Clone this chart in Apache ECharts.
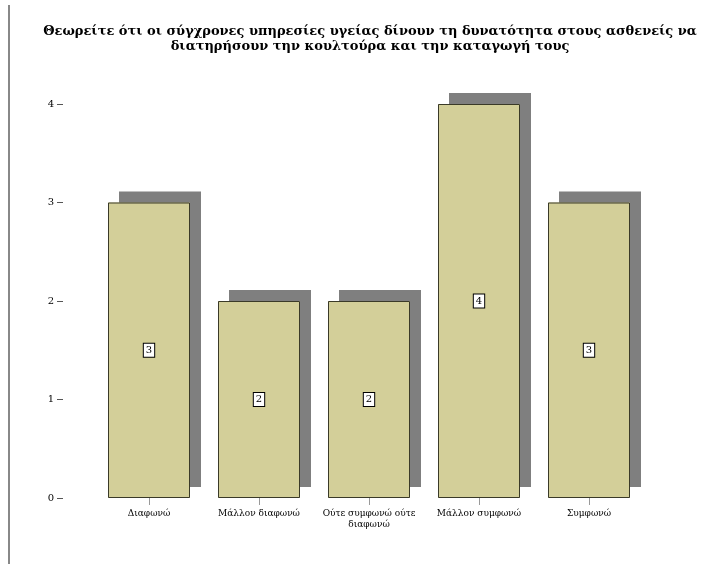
<!DOCTYPE html>
<html>
<head>
<meta charset="utf-8">
<script src="https://cdn.jsdelivr.net/npm/echarts@6/dist/echarts.min.js"></script>
<style>html,body{margin:0;padding:0;background:#fff;}#chart{width:705px;height:564px;}</style>
</head>
<body>
<div id="chart"></div>
<script>
const titleText = "Θεωρείτε ότι οι σύγχρονες υπηρεσίες υγείας δίνουν τη δυνατότητα στους ασθενείς να\nδιατηρήσουν την κουλτούρα και την καταγωγή τους";
const categories = ["Διαφωνώ", "Μάλλον διαφωνώ", "Ούτε συμφωνώ ούτε\nδιαφωνώ", "Μάλλον συμφωνώ", "Συμφωνώ"];
const counts = [3, 2, 2, 4, 3];
const yTicks = [0, 1, 2, 3, 4];

const chart = echarts.init(document.getElementById('chart'), null, {renderer: 'canvas'});
chart.setOption({
  animation: false,
  backgroundColor: '#ffffff',
  title: {
    text: titleText,
    left: 365, top: 19, textAlign: 'center',
    textStyle: {fontFamily: 'DejaVu Serif', fontWeight: 'bold', fontSize: 13, color: '#000', lineHeight: 15}
  },
  grid: {left: 94, right: 61, top: 104, bottom: 66},
  xAxis: {
    type: 'category', data: categories,
    axisLine: {show: false},
    axisTick: {show: true, alignWithLabel: true, length: 7, lineStyle: {color: '#999'}},
    axisLabel: {fontFamily: 'DejaVu Serif', fontSize: 9, color: '#000', margin: 10, lineHeight: 11, interval: 0}
  },
  yAxis: {
    type: 'value', min: 0, max: 4, interval: 1, offset: 31,
    splitLine: {show: false},
    axisLine: {show: false},
    axisTick: {show: true, length: 6, lineStyle: {color: '#555'}},
    axisLabel: {fontFamily: 'DejaVu Serif', fontSize: 10, color: '#000', margin: 9,
      formatter: v => yTicks.includes(v) ? String(v) : ''}
  },
  series: [{
    type: 'bar', data: counts, barWidth: 82, silent: true,
    itemStyle: {color: '#d3cf99', borderWidth: 0,
      shadowColor: '#7f7f7f', shadowBlur: 0, shadowOffsetX: 11, shadowOffsetY: -11}
  }, {
    type: 'bar', data: counts, barWidth: 82, barGap: '-100%',
    itemStyle: {color: '#d3cf99', borderColor: '#3a3a28', borderWidth: 1},
    label: {show: true, position: 'inside', color: '#000', fontFamily: 'DejaVu Serif', fontSize: 10,
      backgroundColor: '#fff', borderColor: '#000', borderWidth: 1, padding: [2, 2, 1, 2]}
  }],
  graphic: [{type: 'line', shape: {x1: 9, y1: 5, x2: 9, y2: 564}, style: {stroke: '#888', lineWidth: 2}}]
});
</script>
</body>
</html>
